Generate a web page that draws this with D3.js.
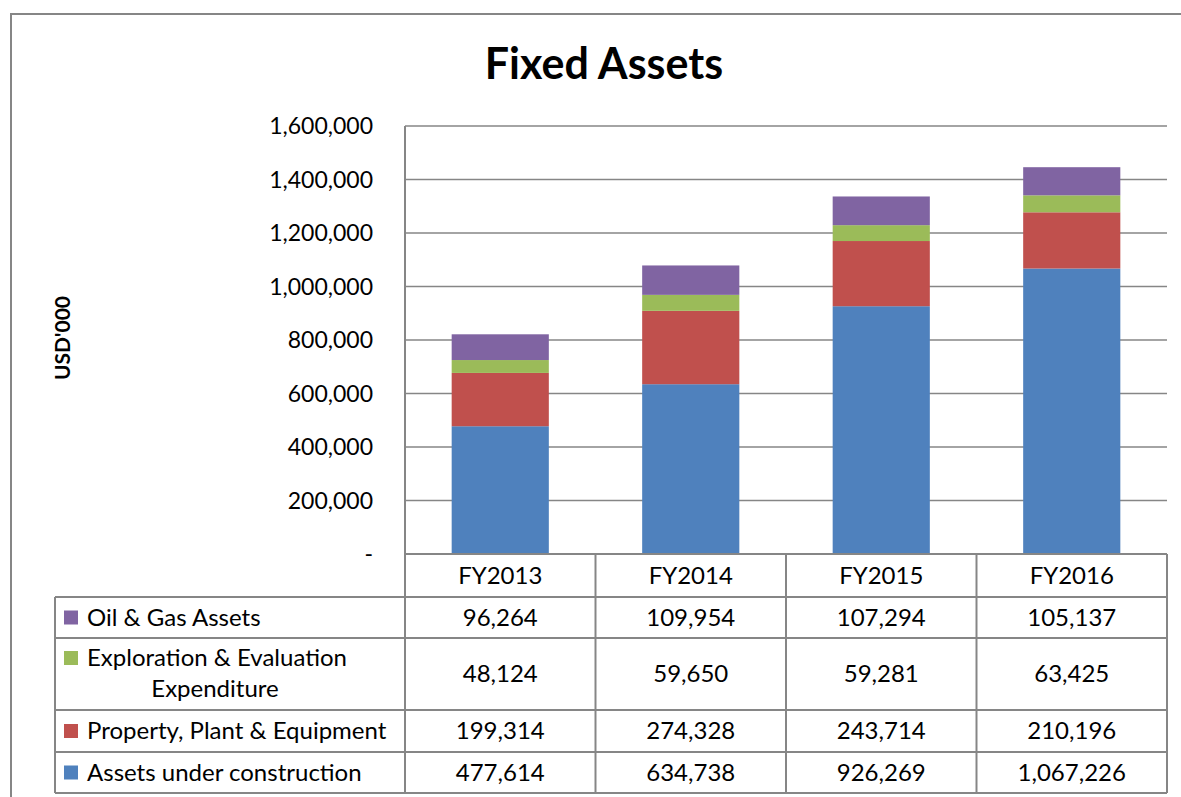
<!DOCTYPE html>
<html>
<head>
<meta charset="utf-8">
<script src="https://cdn.jsdelivr.net/npm/d3@7"></script>
<style>
  body { margin: 0; background: #fff; }
  text { font-family: Lato, "Open Sans", sans-serif; fill: #000; }
</style>
</head>
<body>
<script>
const years = ['FY2013', 'FY2014', 'FY2015', 'FY2016'];
const seriesNames = ['Assets under construction', 'Property, Plant & Equipment', 'Exploration & Evaluation Expenditure', 'Oil & Gas Assets'];
const assetsUnderConstruction = [477614, 634738, 926269, 1067226];
const propertyPlantEquipment = [199314, 274328, 243714, 210196];
const explorationEvaluation = [48124, 59650, 59281, 63425];
const oilGasAssets = [96264, 109954, 107294, 105137];
const colors = ['#4F81BD', '#C0504D', '#9BBB59', '#8064A2'];
const yTicks = [0, 200000, 400000, 600000, 800000, 1000000, 1200000, 1400000, 1600000];

const allSeries = [assetsUnderConstruction, propertyPlantEquipment, explorationEvaluation, oilGasAssets];
const table = years.map((y, i) => {
  const row = { year: y };
  seriesNames.forEach((s, j) => row[s] = allSeries[j][i]);
  return row;
});

const W = 1181, H = 797;
const plot = { left: 405, right: 1167, top: 126, bottom: 554 };
const fs = 24;

const svg = d3.select('body').append('svg')
  .attr('width', W)
  .attr('height', H);

// outer chart border
svg.append('rect')
  .attr('x', 11).attr('y', 14)
  .attr('width', W).attr('height', H)
  .attr('fill', 'none').attr('stroke', '#868686').attr('stroke-width', 2);

svg.append('text')
  .attr('x', 604).attr('y', 79)
  .attr('text-anchor', 'middle')
  .attr('font-size', 43).attr('font-weight', 'bold')
  .text('Fixed Assets');

const x = d3.scaleBand()
  .domain(years)
  .range([plot.left, plot.right])
  .paddingInner(0).paddingOuter(0);
const y = d3.scaleLinear()
  .domain([0, 1600000])
  .range([plot.bottom, plot.top]);

// gridlines
svg.append('g')
  .selectAll('line')
  .data(yTicks.filter(d => d > 0))
  .join('line')
  .attr('x1', plot.left).attr('x2', plot.right)
  .attr('y1', d => y(d)).attr('y2', d => y(d))
  .attr('stroke', '#868686').attr('stroke-width', 1.5);

// y axis labels
const fmt = d3.format(',');
svg.append('g')
  .selectAll('text')
  .data(yTicks)
  .join('text')
  .attr('x', 373)
  .attr('y', d => y(d) + 8)
  .attr('text-anchor', 'end')
  .attr('font-size', 23)
  .text(d => d === 0 ? '-' : fmt(d));

svg.append('text')
  .attr('transform', 'translate(70,338) rotate(-90)')
  .attr('text-anchor', 'middle')
  .attr('font-size', 21).attr('font-weight', 'bold')
  .text("USD'000");

// stacked bars
const stack = d3.stack().keys(seriesNames)(table);
const barW = x.bandwidth() * 0.51;
svg.append('g')
  .selectAll('g')
  .data(stack)
  .join('g')
  .attr('fill', (d, i) => colors[i])
  .selectAll('rect')
  .data(d => d)
  .join('rect')
  .attr('x', d => x(d.data.year) + (x.bandwidth() - barW) / 2)
  .attr('width', barW)
  .attr('y', d => y(d[1]))
  .attr('height', d => y(d[0]) - y(d[1]));

// data table
const rowOrder = [3, 2, 1, 0];
const rowH = [43, 41, 72, 42, 41];
const rowY = [plot.bottom];
rowH.forEach((h, i) => rowY.push(rowY[i] + h));
const tableLeft = 55;
const lineColor = '#868686';
const grid = svg.append('g').attr('stroke', lineColor).attr('stroke-width', 2);

// horizontal lines
rowY.forEach((yy, i) => {
  grid.append('line')
    .attr('x1', i === 0 ? plot.left : tableLeft)
    .attr('x2', plot.right)
    .attr('y1', yy).attr('y2', yy);
});
// vertical lines
grid.append('line')
  .attr('x1', plot.left).attr('x2', plot.left)
  .attr('y1', plot.top).attr('y2', rowY[rowY.length - 1]);
grid.append('line')
  .attr('x1', tableLeft).attr('x2', tableLeft)
  .attr('y1', rowY[1]).attr('y2', rowY[rowY.length - 1]);
years.forEach(yr => {
  const xx = x(yr) + x.bandwidth();
  grid.append('line')
    .attr('x1', xx).attr('x2', xx)
    .attr('y1', plot.bottom).attr('y2', rowY[rowY.length - 1]);
});

// header
svg.append('g')
  .selectAll('text')
  .data(years)
  .join('text')
  .attr('x', d => x(d) + x.bandwidth() / 2)
  .attr('y', (rowY[0] + rowY[1]) / 2 + 8)
  .attr('text-anchor', 'middle')
  .attr('font-size', fs)
  .text(d => d);

// rows
rowOrder.forEach((si, r) => {
  const top = rowY[r + 1], bot = rowY[r + 2];
  const mid = (top + bot) / 2;
  const name = seriesNames[si];
  const g = svg.append('g');
  if (name.startsWith('Exploration')) {
    g.append('rect').attr('x', 64).attr('y', top + 13).attr('width', 14).attr('height', 14).attr('fill', colors[si]);
    g.append('text').attr('x', 87).attr('y', top + 28).attr('font-size', fs).text('Exploration & Evaluation');
    g.append('text').attr('x', 215).attr('y', top + 59).attr('text-anchor', 'middle').attr('font-size', fs).text('Expenditure');
  } else {
    g.append('rect').attr('x', 64).attr('y', mid - 7).attr('width', 14).attr('height', 14).attr('fill', colors[si]);
    g.append('text').attr('x', 87).attr('y', mid + 8).attr('font-size', fs).text(name);
  }
  g.selectAll('text.v')
    .data(years)
    .join('text')
    .attr('class', 'v')
    .attr('x', d => x(d) + x.bandwidth() / 2)
    .attr('y', mid + 8)
    .attr('text-anchor', 'middle')
    .attr('font-size', fs)
    .text((d, i) => fmt(allSeries[si][i]));
});
</script>
</body>
</html>
